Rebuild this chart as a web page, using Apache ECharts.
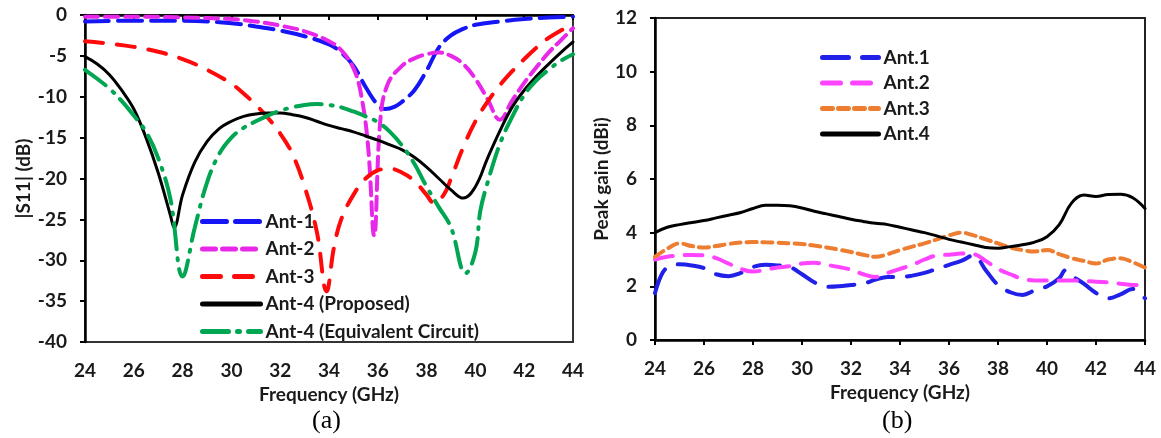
<!DOCTYPE html>
<html>
<head>
<meta charset="utf-8">
<script src="https://cdn.jsdelivr.net/npm/echarts@6/dist/echarts.min.js"></script>
<style>
html, body { margin: 0; padding: 0; background: #fff; }
#main { width: 1161px; height: 438px; }
</style>
</head>
<body>
<div id="main"></div>
<script>
// (a) |S11| curves, each with its own frequency points
const freqA1 = [24, 26, 28, 30, 31, 32, 33, 34, 34.5, 35, 35.5, 36, 36.3, 36.7, 37, 37.5, 38, 38.5, 39, 39.5, 40, 41, 42, 43, 44]
const s11A1 = [-0.8, -0.7, -0.7, -1.0, -1.4, -1.9, -2.6, -3.6, -4.6, -6.2, -8.8, -11.0, -11.5, -11.2, -10.6, -9.2, -6.8, -4.0, -2.5, -1.7, -1.2, -0.8, -0.5, -0.3, -0.2]

const freqA2 = [24, 26, 28, 30, 31, 32, 33, 34, 34.5, 35, 35.3, 35.6, 35.85, 36.1, 36.4, 37, 37.5, 38, 38.5, 39, 39.5, 40, 40.5, 41, 41.5, 42, 42.5, 43, 43.5, 44]
const s11A2 = [-0.2, -0.2, -0.3, -0.5, -0.8, -1.3, -2.0, -3.2, -4.3, -6.5, -9.5, -16, -27, -13, -8.5, -6.2, -5.3, -4.8, -4.6, -5.0, -6.0, -7.8, -10.3, -12.8, -10.5, -8.3, -6.4, -4.6, -3.1, -1.6]

const freqA3 = [24, 25, 26, 27, 28, 29, 30, 30.5, 31, 31.5, 32, 32.5, 33, 33.5, 33.9, 34.2, 34.5, 35, 35.5, 36, 36.5, 37, 37.5, 38, 38.3, 38.7, 39, 39.5, 40, 40.5, 41, 41.5, 42, 42.5, 43, 43.5, 44]
const s11A3 = [-3.2, -3.5, -3.9, -4.5, -5.4, -6.7, -8.4, -9.6, -11.0, -12.6, -14.5, -17.0, -21.0, -26.5, -33.8, -28.5, -25.0, -22.0, -20.0, -19.0, -18.8, -19.3, -20.3, -22.0, -23.0, -22.0, -20.0, -16.2, -13.0, -10.6, -8.6, -6.9, -5.4, -4.0, -2.8, -1.9, -1.1]

const freqA4 = [24, 24.5, 25, 25.5, 26, 26.5, 27, 27.5, 27.65, 28, 28.5, 29, 29.5, 30, 30.5, 31, 31.5, 32, 32.5, 33, 33.5, 34, 34.5, 35, 35.5, 36, 36.5, 37, 37.5, 38, 38.5, 39, 39.5, 40, 40.5, 41, 41.5, 42, 42.5, 43, 43.5, 44]
const s11A4 = [-5.1, -6.0, -7.3, -9.2, -11.5, -15.0, -19.3, -24.5, -26.0, -22.0, -18.0, -15.5, -13.9, -13.0, -12.4, -12.1, -12.0, -12.0, -12.2, -12.5, -13.0, -13.5, -13.9, -14.3, -14.8, -15.3, -15.9, -16.5, -17.4, -18.6, -20.0, -21.4, -22.4, -21.0, -17.5, -14.2, -11.3, -9.2, -7.5, -6.0, -4.6, -3.3]

const freqEq = [24, 24.5, 25, 25.5, 26, 26.5, 27, 27.5, 28, 28.5, 29, 29.5, 30, 30.5, 31, 31.5, 32, 32.5, 33, 33.5, 34, 34.5, 35, 35.5, 36, 36.5, 37, 37.5, 38, 38.5, 39, 39.6, 40, 40.2, 40.5, 41, 41.5, 42, 42.5, 43, 43.5, 44]
const s11Eq = [-6.7, -7.8, -9.0, -10.5, -12.3, -14.3, -17.5, -22.5, -32.0, -26.0, -20.5, -17.0, -15.0, -13.8, -13.0, -12.3, -11.7, -11.3, -11.0, -10.9, -11.0, -11.3, -11.8, -12.4, -13.1, -14.3, -16.0, -18.2, -21.0, -23.5, -26.0, -31.6, -29.0, -24.0, -20.5, -15.8, -12.5, -9.8, -8.0, -6.7, -5.6, -4.8]

// (b) peak gain
const freqGain = [24, 24.5, 25, 25.5, 26, 26.5, 27, 27.5, 28, 28.5, 29, 29.5, 30, 30.5, 31, 31.5, 32, 32.5, 33, 33.5, 34, 34.5, 35, 35.5, 36, 36.5, 37, 37.5, 38, 38.5, 39, 39.5, 40, 40.5, 41, 41.5, 42, 42.5, 43, 43.5, 44]
const gain2 = [3.0, 3.1, 3.15, 3.17, 3.15, 3.05, 2.85, 2.65, 2.55, 2.62, 2.7, 2.75, 2.85, 2.88, 2.8, 2.72, 2.62, 2.45, 2.35, 2.5, 2.65, 2.8, 3.0, 3.15, 3.18, 3.22, 3.2, 2.95, 2.65, 2.45, 2.28, 2.22, 2.22, 2.22, 2.22, 2.2, 2.17, 2.15, 2.1, 2.05, 2.05]
const gain3 = [3.1, 3.4, 3.6, 3.5, 3.45, 3.5, 3.58, 3.63, 3.65, 3.64, 3.63, 3.6, 3.58, 3.52, 3.45, 3.37, 3.28, 3.18, 3.1, 3.2, 3.35, 3.48, 3.6, 3.75, 3.9, 4.0, 3.9, 3.75, 3.6, 3.45, 3.35, 3.3, 3.35, 3.2, 3.05, 2.95, 2.85, 3.0, 3.05, 2.9, 2.7]
const gain4 = [4.0, 4.2, 4.3, 4.38, 4.45, 4.55, 4.65, 4.75, 4.9, 5.02, 5.02, 5.0, 4.92, 4.8, 4.7, 4.6, 4.5, 4.42, 4.35, 4.3, 4.2, 4.1, 4.0, 3.88, 3.75, 3.65, 3.55, 3.45, 3.42, 3.48, 3.55, 3.65, 3.85, 4.3, 5.1, 5.4, 5.35, 5.42, 5.43, 5.3, 4.9]

const freqGain1 = [24, 24.25, 24.5, 25, 25.5, 26, 26.5, 27, 27.5, 28, 28.5, 29, 29.5, 30, 30.5, 31, 31.5, 32, 32.5, 33, 33.5, 34, 34.5, 35, 35.5, 36, 36.5, 37, 37.5, 38, 38.5, 39, 39.5, 40, 40.5, 40.75, 41, 41.5, 42, 42.5, 43, 43.5, 44]
const gain1 = [1.75, 2.4, 2.7, 2.82, 2.78, 2.68, 2.45, 2.38, 2.5, 2.72, 2.8, 2.78, 2.72, 2.45, 2.15, 1.98, 2.0, 2.05, 2.1, 2.25, 2.35, 2.35, 2.4, 2.5, 2.65, 2.8, 2.95, 3.15, 2.6, 2.05, 1.78, 1.68, 1.85, 2.0, 2.3, 2.6, 2.4, 2.1, 1.75, 1.55, 1.7, 1.9, 1.55]

const freqTicks = { min: 24, max: 44, interval: 2 }

const pts = (xs, ys) => xs.map((x, i) => [x, ys[i]])
const font = 'Lato, "Open Sans", sans-serif'
const txt = { fontFamily: font, fontWeight: 'bold', fontSize: 19, color: '#1a1a1a' }

const myChart = echarts.init(document.getElementById('main'))

function xAxisOf(gridIndex) {
    return {
        type: 'value', gridIndex, ...freqTicks,
        name: 'Frequency (GHz)', nameLocation: 'middle', nameGap: 35,
        nameTextStyle: txt,
        axisLine: { lineStyle: { color: '#000', width: 2.5 } },
        axisTick: { show: true, length: 5, lineStyle: { color: '#000', width: 2 } },
        axisLabel: { margin: 19, ...txt },
        splitLine: { show: false }
    }
}
function yAxisOf(gridIndex, min, max, interval, name, gap) {
    return {
        type: 'value', gridIndex, min, max, interval,
        name, nameLocation: 'middle', nameGap: gap, nameRotate: 90,
        nameTextStyle: txt,
        axisLine: { show: true, lineStyle: { color: '#000', width: 2.5 } },
        axisTick: { show: true, length: 5, lineStyle: { color: '#000', width: 2 } },
        axisLabel: { margin: 18, ...txt },
        splitLine: { show: false }
    }
}
function line(name, data, color, width, type, xi) {
    return {
        name, type: 'line', data, xAxisIndex: xi, yAxisIndex: xi,
        smooth: 0.4, symbol: 'none', silent: true,
        lineStyle: { color, width, type, cap: 'round' },
        itemStyle: { color }
    }
}

const option = {
    animation: false,
    backgroundColor: '#fff',
    grid: [
        { left: 85, top: 15, right: 588, bottom: 96, show: true, borderColor: '#333', borderWidth: 2 },
        { left: 655, top: 18, right: 16, bottom: 98, show: true, borderColor: '#222', borderWidth: 2 }
    ],
    xAxis: [xAxisOf(0), xAxisOf(1)],
    yAxis: [
        yAxisOf(0, -40, 0, 5, '|S11| (dB)', 52),
        yAxisOf(1, 0, 12, 2, 'Peak gain (dBi)', 42)
    ],
    legend: [
        {
            data: ['Ant-1', 'Ant-2', 'Ant-3', 'Ant-4 (Proposed)', 'Ant-4 (Equivalent Circuit)'],
            orient: 'vertical', left: 195, top: 207, itemWidth: 58, itemHeight: 14, itemGap: 8.5,
            itemStyle: { opacity: 0 },
            lineStyle: { width: 5 },
            textStyle: txt
        },
        {
            data: ['Ant.1', 'Ant.2', 'Ant.3', 'Ant.4'],
            orient: 'vertical', left: 815, top: 43, itemWidth: 56, itemHeight: 14, itemGap: 6.5,
            itemStyle: { opacity: 0 },
            lineStyle: { width: 5 },
            textStyle: txt
        }
    ],
    series: [
        line('Ant-1', pts(freqA1, s11A1), '#1515f5', 4, [24, 9], 0),
        line('Ant-2', pts(freqA2, s11A2), '#e828e8', 4, [13, 7], 0),
        line('Ant-3', pts(freqA3, s11A3), '#ff0a0a', 4, [18, 14], 0),
        line('Ant-4 (Proposed)', pts(freqA4, s11A4), '#000', 3, 'solid', 0),
        line('Ant-4 (Equivalent Circuit)', pts(freqEq, s11Eq), '#00a651', 4, [26, 9, 2, 9], 0),
        line('Ant.1', pts(freqGain1, gain1), '#2020e8', 4, [26, 14], 1),
        line('Ant.2', pts(freqGain, gain2), '#ff44ff', 4, [18, 12], 1),
        line('Ant.3', pts(freqGain, gain3), '#ed7d31', 4, [10, 6], 1),
        line('Ant.4', pts(freqGain, gain4), '#000', 3, 'solid', 1)
    ],
    graphic: [
        { type: 'text', left: 312, top: 408, style: { text: '(a)', font: '26px "Liberation Serif", serif', fill: '#000' } },
        { type: 'text', left: 882, top: 408, style: { text: '(b)', font: '26px "Liberation Serif", serif', fill: '#000' } }
    ]
}

myChart.setOption(option)
</script>
</body>
</html>
